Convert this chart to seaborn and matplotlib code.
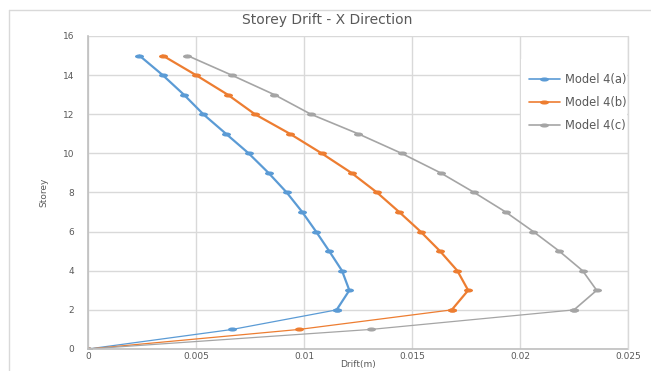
import pandas as pd
import matplotlib.pyplot as plt
import seaborn as sns
from matplotlib.patches import Rectangle
from matplotlib.path import Path
from matplotlib.transforms import Affine2D

# storey drift data
storey = list(range(0, 16))
drift_4a = [0, 0.00668, 0.01151, 0.01210, 0.01176, 0.01117, 0.01056, 0.00992,
            0.00920, 0.00836, 0.00744, 0.00639, 0.00534, 0.00444, 0.00346, 0.00238]
drift_4b = [0, 0.00977, 0.01684, 0.01760, 0.01710, 0.01630, 0.01540, 0.01441,
            0.01338, 0.01220, 0.01082, 0.00935, 0.00773, 0.00647, 0.00500, 0.00346]
drift_4c = [0, 0.01309, 0.02250, 0.02355, 0.02290, 0.02182, 0.02062, 0.01934,
            0.01788, 0.01633, 0.01452, 0.01251, 0.01032, 0.00863, 0.00665, 0.00460]
models = ['Model 4(a)', 'Model 4(b)', 'Model 4(c)']
colors = ['#5B9BD5', '#ED7D31', '#A5A5A5']

df = pd.concat([
    pd.DataFrame({'Storey': storey, 'Drift': d, 'Model': m})
    for d, m in zip([drift_4a, drift_4b, drift_4c], models)
])

sns.set_style('white')
plt.rcParams['font.family'] = ['DejaVu Sans']
txt = '#595959'
grid_c = '#D9D9D9'

# flattened round marker like the excel export
oval = Path.unit_circle().transformed(Affine2D().scale(2.2, 1.0))
msize = 6.5

fig = plt.figure(figsize=(6.51, 3.71), dpi=100)
ax = fig.add_axes([88/651, 22/371, 540/651, 313/371])

# lower part (storey 0-2) looks thinner, upper part thicker
low = df[df['Storey'] <= 2]
high = df[df['Storey'] >= 2]
sns.lineplot(data=low, x='Drift', y='Storey', hue='Model', palette=colors,
             sort=False, estimator=None, marker=oval, markersize=msize,
             markeredgewidth=0, linewidth=0.9, ax=ax, legend=False)
sns.lineplot(data=high, x='Drift', y='Storey', hue='Model', palette=colors,
             sort=False, estimator=None, marker=oval, markersize=msize,
             markeredgewidth=0, linewidth=1.6, ax=ax, legend=False)
ax.lines[-1].set_linewidth(1.2)

ax.set_xlim(0, 0.025)
ax.set_ylim(0, 16)
ax.set_xticks([0, 0.005, 0.01, 0.015, 0.02, 0.025])
ax.set_xticklabels(['0', '0.005', '0.01', '0.015', '0.02', '0.025'])
ax.set_yticks(range(0, 17, 2))
ax.grid(True, color=grid_c, linewidth=1)
ax.tick_params(colors=txt, labelsize=6.5, length=0)
ax.tick_params(axis='x', pad=2)
ax.tick_params(axis='y', pad=10)
for s in ['top', 'right']:
    ax.spines[s].set_visible(False)
for s in ['left', 'bottom']:
    ax.spines[s].set_color('#BFBFBF')
    ax.spines[s].set_linewidth(1.2)
ax.set_xlabel('Drift(m)', color=txt, fontsize=6.5, labelpad=-0.5)
ax.set_ylabel('Storey', color=txt, fontsize=6.5, labelpad=10)

# legend area blanks out the grid behind it
ax.add_patch(Rectangle((0.02006, 10.7), 0.00488, 4.1, facecolor='white',
                       edgecolor='none', zorder=1.5))
ax.axvline(0.025, color=grid_c, linewidth=1, zorder=6, clip_on=False)
ax.legend([plt.Line2D([], [], color=c, marker=oval, markersize=msize,
                      markeredgewidth=0, linewidth=1.2) for c in colors],
          models, loc='center left', bbox_to_anchor=(0.808, 0.787),
          frameon=False, fontsize=8.3, labelcolor=txt, handlelength=2.7,
          labelspacing=0.85, handletextpad=0.4, borderaxespad=0)

fig.text(327/651, 1 - 20/371, 'Storey Drift - X Direction', ha='center',
         va='center', fontsize=10, color=txt)

# chart area border: only top and left edges show in the crop
fig.add_artist(plt.Line2D([9/651, 1], [1 - 10/371, 1 - 10/371],
                          transform=fig.transFigure, color=grid_c, linewidth=1))
fig.add_artist(plt.Line2D([9/651, 9/651], [0, 1 - 10/371],
                          transform=fig.transFigure, color=grid_c, linewidth=1))

fig.savefig('out.png', dpi=100)
